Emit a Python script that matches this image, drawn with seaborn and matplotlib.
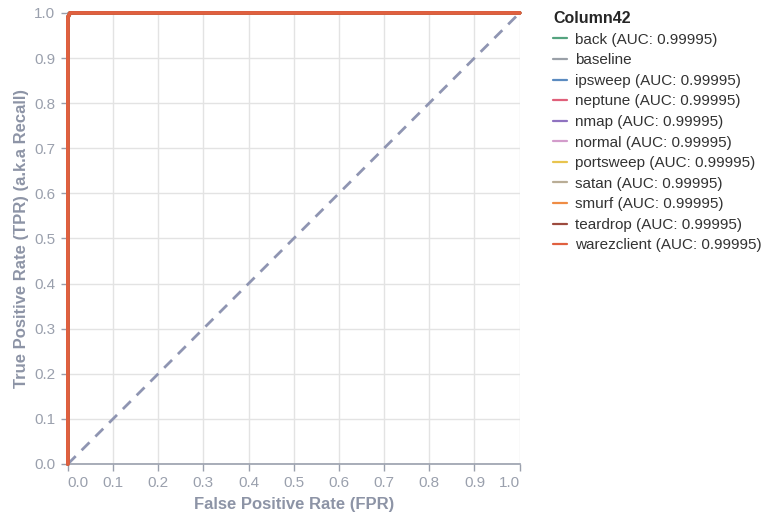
import matplotlib
matplotlib.use("Agg")
import matplotlib.pyplot as plt
import numpy as np
import pandas as pd
import seaborn as sns

# ── Data ─────────────────────────────────────────────────────────────────────
classes = ["back", "ipsweep", "neptune", "nmap", "normal", "portsweep",
           "satan", "smurf", "teardrop", "warezclient"]
auc_values = [0.99995] * len(classes)
roc_fpr = [0.0, 0.0, 0.005, 1.0]
roc_tpr = [0.0, 0.99, 1.0, 1.0]
baseline_fpr = [0.0, 1.0]
baseline_tpr = [0.0, 1.0]
ticks = [0.0, 0.1, 0.2, 0.3, 0.4, 0.5, 0.6, 0.7, 0.8, 0.9, 1.0]

colors = {
    "back": "#54a37f", "baseline": "#9aa0a8", "ipsweep": "#5b8bc0",
    "neptune": "#e0607a", "nmap": "#8f72c0", "normal": "#d39ccb",
    "portsweep": "#e8c44e", "satan": "#b9ad96", "smurf": "#ef8c45",
    "teardrop": "#9c4a3e", "warezclient": "#e0603f",
}

# ── Style ────────────────────────────────────────────────────────────────────
sns.set_theme(style="white")
plt.rcParams["font.family"] = ["Liberation Sans", "DejaVu Sans"]
AXIS_GREY = "#9aa0ad"
LABEL_GREY = "#8d94a6"

fig = plt.figure(figsize=(7.71, 5.16), dpi=100)
ax = fig.add_axes([0.088, 0.1008, 0.586, 0.8742])

rows = []
for c in classes:
    for f, t in zip(roc_fpr, roc_tpr):
        rows.append({"fpr": f, "tpr": t, "cls": c})
df = pd.DataFrame(rows)

handles = []
labels = []
for c, auc in zip(classes, auc_values):
    sub = df[df["cls"] == c]
    sns.lineplot(data=sub, x="fpr", y="tpr", sort=False, estimator=None,
                 color=colors[c], lw=2.6, ax=ax, zorder=3, clip_on=False)
    handles.append(plt.Line2D([], [], color=colors[c], lw=1.6))
    labels.append(f"{c} (AUC: {auc})")

sns.lineplot(x=baseline_fpr, y=baseline_tpr, sort=False, estimator=None,
             color="#8f95b2", lw=2, ls=(0, (4, 3)), ax=ax, zorder=2)
handles.insert(1, plt.Line2D([], [], color=colors["baseline"], lw=1.6))
labels.insert(1, "baseline")

ax.set_xlim(0, 1)
ax.set_ylim(0, 1)
ax.set_xticks(ticks)
ax.set_yticks(ticks)
ax.set_xticklabels([f"{t:.1f}" for t in ticks])
ax.set_yticklabels([f"{t:.1f}" for t in ticks])
xl = ax.get_xticklabels()
xl[0].set_ha("left")
xl[-1].set_ha("right")

ax.grid(True, color="#e3e3e3", lw=1)
ax.set_axisbelow(True)
for s in ["top", "right"]:
    ax.spines[s].set_visible(False)
ax.spines["bottom"].set_color(AXIS_GREY)
ax.spines["left"].set_color(AXIS_GREY)
ax.spines["bottom"].set_linewidth(1.2)
ax.tick_params(axis="both", colors=AXIS_GREY, labelcolor=AXIS_GREY,
               labelsize=11, length=5, width=1, direction="out",
               bottom=True, left=True, pad=4)

ax.set_xlabel("False Positive Rate (FPR)", fontsize=12, fontweight="bold",
              color=LABEL_GREY, labelpad=5)
ax.set_ylabel("True Positive Rate (TPR) (a.k.a Recall)", fontsize=12,
              fontweight="bold", color=LABEL_GREY, labelpad=4)

leg = fig.legend(handles, labels, title="Column42", loc="upper left",
                 bbox_to_anchor=(0.700, 1.005), frameon=False, fontsize=11,
                 title_fontproperties={"weight": "bold", "size": 11.5},
                 handlelength=0.9, handletextpad=0.5, labelspacing=0.43,
                 alignment="left")
for t in leg.get_texts():
    t.set_color("#333333")

fig.savefig("out.png", dpi=100)
